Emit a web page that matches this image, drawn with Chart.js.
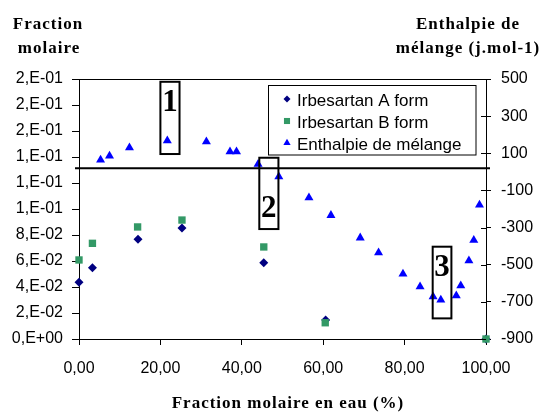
<!DOCTYPE html>
<html><head><meta charset="utf-8">
<script src="https://cdn.jsdelivr.net/npm/chart.js@4.4.0/dist/chart.umd.min.js"></script>
<style>html,body{margin:0;padding:0;background:#fff}#wrap{width:540px;height:412px;position:relative}</style>
</head><body><div id="wrap"><canvas id="c" width="540" height="412"></canvas></div>
<script>
const xIrbA = [0, 3.3, 14.5, 25.3, 45.4, 60.6, 100];
const yIrbA = [0.0436, 0.0549, 0.0767, 0.0854, 0.0587, 0.0146, 0];
const xIrbB = [0, 3.3, 14.4, 25.3, 45.4, 60.5, 100];
const yIrbB = [0.0608, 0.0736, 0.0862, 0.0915, 0.0708, 0.0125, 0];
const xEnth = [5.3, 7.5, 12.4, 21.7, 31.3, 37.1, 38.7, 44.0, 49.1, 56.5, 61.9, 69.1, 73.6, 79.6, 83.8, 87.0, 88.9, 92.7, 93.8, 95.8, 97.0, 98.4];
const yEnth = [64, 86, 130, 168, 162, 109, 109, 41, -26, -139, -234, -355, -435, -550, -618, -672, -690, -667, -613, -478, -368, -178];
const seriesNames = ['Irbesartan A form', 'Irbesartan B form', 'Enthalpie de mélange'];
const xTickLabels = ['0,00', '20,00', '40,00', '60,00', '80,00', '100,00'];
const leftTickLabels = ['0,E+00', '2,E-02', '4,E-02', '6,E-02', '8,E-02', '1,E-01', '1,E-01', '1,E-01', '2,E-01', '2,E-01', '2,E-01'];
const rightTickLabels = ['-900', '-700', '-500', '-300', '-100', '100', '300', '500'];
const leftTitle = ['Fraction', 'molaire'];
const rightTitle = ['Enthalpie de', 'mélange (j.mol-1)'];
const xTitle = 'Fraction molaire en eau (%)';
const zoneLabels = ['1', '2', '3'];
const zoneX = [[20.0, 24.7], [44.3, 49.0], [86.9, 91.5]];
const zoneY = [[485, 96], [76, -308], [-403, -789]];
const zoneLabelY = [371, -198, -515];
const separatorValue = 19;

const colA = '#000080', colB = '#339966', colE = '#0000ff';
const sans = '"Liberation Sans", Arial, sans-serif';
const serif = '"Liberation Serif", "Times New Roman", serif';

const pts = (xs, ys) => xs.map((x, i) => ({x: x, y: ys[i]}));

const decor = {
  id: 'decor',
  afterDraw(chart) {
    const ctx = chart.ctx, ca = chart.chartArea;
    const sx = chart.scales.x, sy2 = chart.scales.y2;
    ctx.save();
    // top frame line
    ctx.strokeStyle = '#000'; ctx.lineWidth = 1;
    ctx.beginPath(); ctx.moveTo(ca.left, Math.round(ca.top) + 0.5); ctx.lineTo(ca.right, Math.round(ca.top) + 0.5); ctx.stroke();
    // inner half of right ticks (cross ticks)
    sy2.ticks.forEach((t, i) => {
      const y = Math.round(sy2.getPixelForValue(t.value)) + 0.5;
      ctx.beginPath(); ctx.moveTo(ca.right - 5, y); ctx.lineTo(ca.right, y); ctx.stroke();
    });
    // separator line
    const ys = sy2.getPixelForValue(separatorValue);
    ctx.lineWidth = 2;
    ctx.beginPath(); ctx.moveTo(ca.left - 4, ys); ctx.lineTo(ca.right + 4, ys); ctx.stroke();
    // zone boxes
    ctx.lineWidth = 2;
    zoneX.forEach((zx, i) => {
      const x0 = sx.getPixelForValue(zx[0]), x1 = sx.getPixelForValue(zx[1]);
      const y0 = sy2.getPixelForValue(zoneY[i][0]), y1 = sy2.getPixelForValue(zoneY[i][1]);
      ctx.strokeRect(x0, y0, x1 - x0, y1 - y0);
      ctx.fillStyle = '#000';
      ctx.font = 'bold 31px ' + serif;
      ctx.textAlign = 'center'; ctx.textBaseline = 'middle';
      ctx.fillText(zoneLabels[i], (x0 + x1) / 2, sy2.getPixelForValue(zoneLabelY[i]));
    });
    // legend
    const lx0 = 268.5, ly0 = 85.5, lx1 = 476, ly1 = 155;
    ctx.fillStyle = '#fff';
    ctx.fillRect(lx0, ly0, lx1 - lx0, ly1 - ly0);
    ctx.lineWidth = 1; ctx.strokeStyle = '#000';
    ctx.strokeRect(lx0, ly0, lx1 - lx0, ly1 - ly0);
    const rows = [99, 121, 143];
    chart.data.datasets.forEach((ds, i) => {
      const styleOpts = {pointStyle: ds.pointStyle, radius: ds.pointStyle === 'rect' ? 4.3 : (ds.pointStyle === 'triangle' ? 4.2 : 3.5), borderWidth: 0, rotation: 0};
      ctx.fillStyle = ds.backgroundColor; ctx.strokeStyle = ds.borderColor;
      Chart.helpers.drawPoint(ctx, styleOpts, 287, rows[i]);
      ctx.fillStyle = '#000';
      ctx.font = '17px ' + sans;
      ctx.textAlign = 'left'; ctx.textBaseline = 'alphabetic';
      ctx.fillText(ds.label, 297, rows[i] + 7);
    });
    // titles
    ctx.fillStyle = '#000';
    ctx.font = 'bold 17px ' + serif;
    ctx.letterSpacing = '1px';
    ctx.textAlign = 'center'; ctx.textBaseline = 'alphabetic';
    ctx.fillText(leftTitle[0], 48, 29);
    ctx.fillText(leftTitle[1], 49, 53);
    ctx.fillText(rightTitle[0], 468, 29);
    ctx.fillText(rightTitle[1], 468, 53);
    ctx.fillText(xTitle, 288, 408);
    ctx.restore();
  }
};

new Chart(document.getElementById('c'), {
  type: 'scatter',
  data: {
    datasets: [
      {label: seriesNames[0], data: pts(xIrbA, yIrbA), yAxisID: 'y', pointStyle: 'rectRot', pointRadius: 4.5, backgroundColor: colA, borderColor: colA, borderWidth: 0, order: 3, clip: false},
      {label: seriesNames[1], data: pts(xIrbB, yIrbB), yAxisID: 'y', pointStyle: 'rect', pointRadius: 5.2, backgroundColor: colB, borderColor: colB, borderWidth: 0, order: 2, clip: false},
      {label: seriesNames[2], data: pts(xEnth, yEnth), yAxisID: 'y2', pointStyle: 'triangle', pointRadius: 5.2, backgroundColor: colE, borderColor: colE, borderWidth: 0, order: 1, clip: false}
    ]
  },
  options: {
    responsive: false, animation: false, devicePixelRatio: 1,
    layout: {padding: {top: 79, left: 0, right: 0, bottom: 0}},
    plugins: {legend: {display: false}, tooltip: {enabled: false}},
    scales: {
      x: {
        type: 'linear', position: 'bottom', min: 0, max: 100,
        ticks: {stepSize: 20, autoSkip: false, maxRotation: 0, color: '#000', font: {family: sans, size: 16}, padding: 14,
          callback: (v, i) => xTickLabels[i]},
        grid: {display: true, drawOnChartArea: false, drawTicks: true, tickLength: 6, color: '#000'},
        border: {display: true, color: '#000', width: 1},
        afterFit: s => { s.height = 73; }
      },
      y: {
        type: 'linear', position: 'left', min: 0, max: 0.2,
        ticks: {stepSize: 0.02, autoSkip: false, color: '#000', font: {family: sans, size: 16}, padding: 9,
          callback: (v, i) => leftTickLabels[i]},
        grid: {display: true, drawOnChartArea: false, drawTicks: true, tickLength: 7, color: '#000'},
        border: {display: true, color: '#000', width: 1},
        afterFit: s => { s.width = 79; }
      },
      y2: {
        type: 'linear', position: 'right', min: -900, max: 500,
        ticks: {stepSize: 200, autoSkip: false, color: '#000', font: {family: sans, size: 16}, padding: 10,
          callback: (v, i) => rightTickLabels[i]},
        grid: {display: true, drawOnChartArea: false, drawTicks: true, tickLength: 5, color: '#000'},
        border: {display: true, color: '#000', width: 1},
        afterFit: s => { s.width = 54; }
      }
    }
  },
  plugins: [decor]
});
</script>
</body></html>
